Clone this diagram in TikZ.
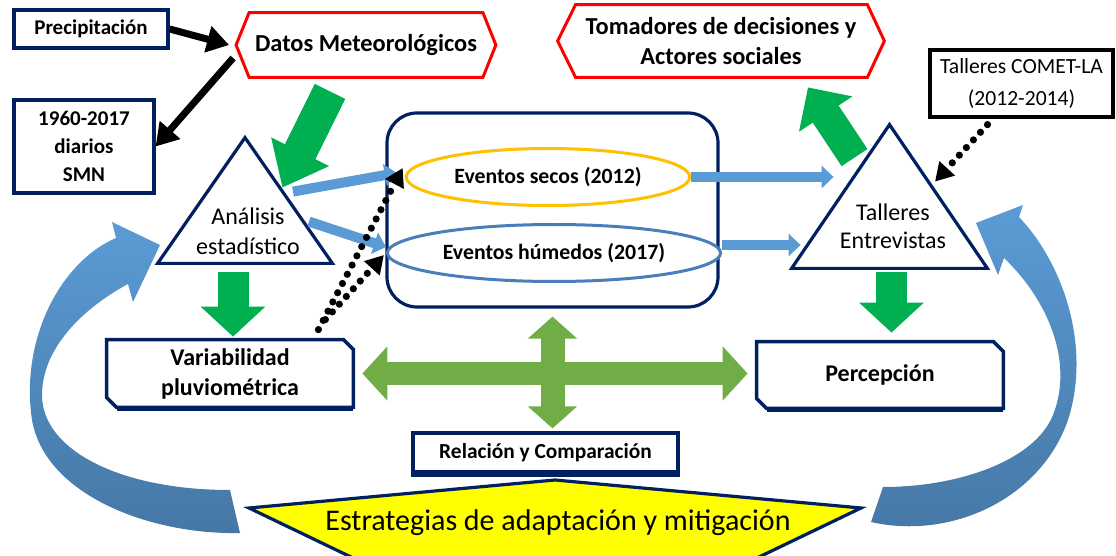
\documentclass[tikz,border=0pt]{standalone}
\usepackage{fontspec}
\setmainfont{Carlito}
\usepackage{tikz}
\usetikzlibrary{calc,arrows.meta,shapes.geometric}
\definecolor{boxblue}{HTML}{002060}
\definecolor{hexred}{HTML}{FF0000}
\definecolor{flowgreen}{HTML}{00B050}
\definecolor{crossgreen}{HTML}{70AD47}
\definecolor{paleblue}{HTML}{5B9BD5}
\definecolor{deepblue}{HTML}{41719C}
\definecolor{secoscolor}{HTML}{FFC000}
\definecolor{humedoscolor}{HTML}{4A7EBB}
\definecolor{stratyellow}{HTML}{FFFF00}
\colorlet{loopblue}{paleblue}
\colorlet{loopdark}{deepblue!85!paleblue}

\tikzstyle{databox} = [
    draw=boxblue,
    line width=1.6pt,
    fill=white,
    align=center,
    inner sep=2pt,
    font=\bfseries\fontsize{10.5}{14}\selectfont
    ]
\tikzstyle{hexbox} = [
    align=center,
    inner sep=0pt,
    font=\bfseries\fontsize{12.2}{15}\selectfont
    ]
\tikzstyle{hexline} = [draw=hexred, line width=1.5pt]
\tikzstyle{snipbox} = [
    align=center,
    inner sep=0pt,
    minimum width=123pt,
    font=\bfseries\fontsize{12}{15}\selectfont
    ]
\tikzstyle{snipline} = [draw=boxblue, line width=1.8pt]
\tikzstyle{footline} = [draw=boxblue, line width=2.4pt]
\tikzstyle{eventnode} = [
    ellipse,
    line width=1.5pt,
    fill=white,
    minimum width=135.5pt,
    minimum height=28.5pt,
    font=\bfseries\fontsize{10.9}{13}\selectfont
    ]
\tikzstyle{trianglefield} = [minimum width=87pt, minimum height=62.5pt, inner sep=0pt]
\tikzstyle{triangletext} = [align=center, font=\fontsize{12}{15}\selectfont]
\tikzstyle{greenflow} = [draw=flowgreen, line width=15.5pt, -{Triangle[width=31pt,length=16pt]}]
\tikzstyle{crossflow} = [draw=crossgreen, line width=11.5pt, {Triangle[width=26.5pt,length=12.5pt]}-{Triangle[width=26.5pt,length=12.5pt]}]
\tikzstyle{blueflow} = [draw=paleblue, line width=5pt, -{Triangle[width=11pt,length=6pt]}]
\tikzstyle{blackflow} = [draw=black, line width=3.5pt, -{Triangle[width=13pt,length=11pt]}]
\tikzstyle{dotflow} = [draw=black, line width=3.6pt, line cap=round, dash pattern=on 0pt off 5.2pt, -{Triangle[width=10pt,length=9pt]}]

\begin{document}
\begin{tikzpicture}[x=0.5pt, y=-0.5pt]
\useasboundingbox (0,0) rectangle (1116,556);
\clip (0,0) rectangle (1116,556);

% return loops
\shade[top color=loopblue, bottom color=loopdark] (240,533) .. controls (150,535) and (45,495) .. (32,420) .. controls (20,340) and (60,262) .. (116,238) -- (112,222) -- (160,245) -- (133,302) -- (128,284) .. controls (80,310) and (42,350) .. (42,395) .. controls (42,450) and (120,490) .. (230,490) -- cycle;
\shade[top color=loopblue, bottom color=loopdark] (871,522) .. controls (950,540) and (1040,500) .. (1068,420) .. controls (1092,345) and (1062,262) .. (1019,217) -- (1023,205) -- (976,223) -- (998,275) -- (1004,258) .. controls (1048,300) and (1074,362) .. (1053,415) .. controls (1035,460) and (960,487) .. (883,487) -- cycle;

\node[databox, minimum width=77pt, minimum height=19pt] (prec) at (91,29) {Precipitación};
\node[hexbox, minimum width=129.5pt, minimum height=32pt] (datos) at (366,45) {Datos Meteorológicos};
\draw[hexline] ($(datos.north west)+(13,0)$) -- ($(datos.north east)+(-13,0)$) -- (datos.east) -- ($(datos.south east)+(-13,0)$) -- ($(datos.south west)+(13,0)$) -- (datos.west) -- cycle;
\node[hexbox, minimum width=163pt, minimum height=36pt] (tomad) at (721,41) {Tomadores de decisiones y\\Actores sociales};
\draw[hexline] ($(tomad.north west)+(18,0)$) -- ($(tomad.north east)+(-17,0)$) -- (tomad.east) -- ($(tomad.south east)+(-17,0)$) -- ($(tomad.south west)+(18,0)$) -- (tomad.west) -- cycle;
\node[databox, minimum width=70pt, minimum height=46.5pt] (serie) at (84,146.5) {1960-2017\\diarios\\SMN};
\node[databox, draw=black, font=\fontsize{10.8}{16}\selectfont, minimum width=91.5pt, minimum height=33.5pt] (comet) at (1021.5,83.5) {Talleres COMET-LA\\(2012-2014)};

\node[draw=boxblue, line width=1.6pt, rounded corners=15pt, minimum width=165.5pt, minimum height=97pt] (eventbox) at (552.5,210) {};
\node[eventnode, draw=secoscolor] (secos) at (548,177) {Eventos secos (2012)};
\node[eventnode, draw=humedoscolor] (humedos) at (554,253) {Eventos húmedos (2017)};

% triangles
\node[trianglefield] (ana) at (245,200.5) {};
\draw[boxblue, line width=1.6pt, fill=white] (ana.north) -- (ana.south east) -- (ana.south west) -- cycle;
\node[triangletext] (anatext) at ($(ana.center)+(3,31)$) {Análisis\\estadístico};
\node[trianglefield, minimum width=97.5pt, minimum height=71.5pt] (tal) at (889.5,196.5) {};
\draw[boxblue, line width=1.6pt, fill=white] (tal.north) -- (tal.south east) -- (tal.south west) -- cycle;
\node[triangletext, font=\fontsize{12}{14}\selectfont] (taltext) at ($(tal.center)+(3.5,29.5)$) {Talleres\\Entrevistas};

\node[snipbox, minimum height=33.5pt] (vari) at (230,373.5) {Variabilidad\\pluviométrica};
\draw[snipline] (vari.north west) -- ($(vari.north east)+(-10,0)$) -- ($(vari.north east)+(0,10)$) -- (vari.south east) -- ($(vari.south west)+(10,0)$) -- ($(vari.south west)+(0,-10)$) -- cycle;
\draw[footline] ($(vari.south west)+(10,1)$) -- ($(vari.south east)+(0,1)$);
\node[snipbox, minimum height=33pt] (perc) at (880,375) {Percepción};
\draw[snipline] (perc.north west) -- ($(perc.north east)+(-10,0)$) -- ($(perc.north east)+(0,10)$) -- (perc.south east) -- ($(perc.south west)+(10,0)$) -- ($(perc.south west)+(0,-10)$) -- cycle;
\draw[footline] ($(perc.south west)+(10,1)$) -- ($(perc.south east)+(0,1)$);
\node[databox, minimum width=132.5pt, minimum height=19.5pt, font=\bfseries\fontsize{10.7}{13}\selectfont] (rel) at (545.5,452.5) {Relación y Comparación};
\draw[footline] ($(rel.south west)+(0,1)$) -- ($(rel.south east)+(0,1)$);

\draw[boxblue, line width=1.6pt, fill=stratyellow] (249,508) -- (555,480) -- (861,508) -- (732,570) -- (378,570) -- cycle;
\node[font=\fontsize{15}{18}\selectfont] (strat) at (558,523) {Estrategias de adaptación y mitigación};

% arrows
\draw[blackflow] (prec.east) -- ([xshift=-3.5pt]datos.west);
\draw[blackflow] ($(datos.west)+(-3,13)$) -- (serie.east);
\draw[greenflow, line width=17pt, -{Triangle[width=31pt,length=20pt]}] ($(datos.south)+(-36,14)$) -- ($(ana.north east)+(-50,50)$);
\draw[greenflow] ($(tal.north)+(-35,33)$) -- ($(tomad.south)+(87,10)$);
\draw[greenflow, -{Triangle[width=31.5pt,length=15pt]}] ([xshift=-6pt,yshift=-4.5pt]ana.south) -- ([xshift=-6pt,yshift=1.5pt]ana.south |- vari.north);
\draw[greenflow, -{Triangle[width=31.5pt,length=15pt]}] ([xshift=1pt,yshift=-2pt]tal.south) -- ([xshift=1pt,yshift=4.5pt]tal.south |- perc.north);

\draw[blueflow] ($(ana.north)+(48,54)$) -- ($(secos.west)+(-8,-4)$);
\draw[blueflow] ($(ana.north)+(64,84)$) -- ($(humedos.west)+(0,-6)$);
\draw[blueflow] (secos.east) -- ([xshift=21pt]secos.east -| tal.west);
\draw[blueflow] ([yshift=4pt]humedos.east) -- ([yshift=4pt,xshift=4.5pt]humedos.east -| tal.west);

\draw[dotflow] ($(vari.north east)+(-35,-10)$) -- ($(secos.west)+(-2,-9)$);
\draw[dotflow] ($(vari.north east)+(-28,-20)$) -- ($(humedos.west)+(-2,2)$);
\draw[dotflow] ($(comet.south)+(-34,6)$) -- ($(tal.north)+(45.5,57)$);

\draw[crossflow] ([xshift=4.5pt]vari.east) -- ([xshift=-4.5pt]vari.east -| perc.west);
\draw[crossflow, line width=12pt, {Triangle[width=24pt,length=11pt]}-{Triangle[width=24pt,length=11pt]}] ([yshift=-4pt]eventbox.south) -- ([yshift=1.5pt]eventbox.south |- rel.north);
\end{tikzpicture}
\end{document}
